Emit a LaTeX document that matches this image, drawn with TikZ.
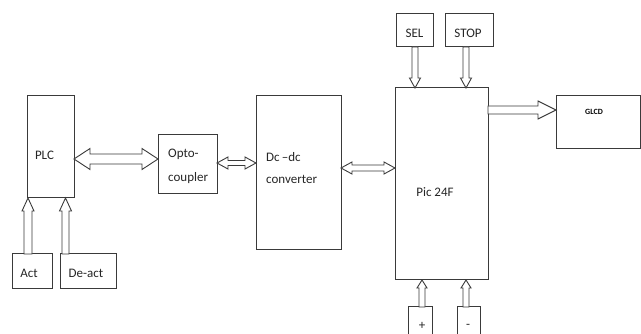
\documentclass[tikz,border=0pt]{standalone}
\usepackage{fontspec}
\setmainfont{Carlito}
\usetikzlibrary{calc}
\definecolor{ln}{HTML}{3A3A3A}
\newcommand{\myhdouble}[5]{%
  \draw[blk] (#1) -- ($(#1)+(#5,-#4)$) -- ($(#1)+(#5,-#3)$) -- ($(#2)+(-#5,-#3)$) -- ($(#2)+(-#5,-#4)$) -- (#2)
   -- ($(#2)+(-#5,#4)$) -- ($(#2)+(-#5,#3)$) -- ($(#1)+(#5,#3)$) -- ($(#1)+(#5,#4)$) -- cycle;}
\newcommand{\myhsingle}[5]{%
  \draw[blk] (#2) -- ($(#2)+(-#5,-#4)$) -- ($(#2)+(-#5,-#3)$) -- ($(#1)+(0,-#3)$) -- ($(#1)+(0,#3)$)
   -- ($(#2)+(-#5,#3)$) -- ($(#2)+(-#5,#4)$) -- cycle;}
\newcommand{\myvsingle}[5]{%
  \draw[blk] (#2) -- ($(#2)+(#4,#5)$) -- ($(#2)+(#3,#5)$) -- ($(#1)+(#3,0)$) -- ($(#1)+(-#3,0)$)
   -- ($(#2)+(-#3,#5)$) -- ($(#2)+(-#4,#5)$) -- cycle;}
\begin{document}
\begin{tikzpicture}[x=1pt,y=-1pt,
  box/.style={draw=ln,line width=1pt,inner sep=0pt,outer sep=0pt,fill=white},
  blk/.style={draw=ln,line width=0.9pt,fill=white,line join=miter},
  txt/.style={inner sep=0pt,font=\fontsize{13}{15}\selectfont,text=black!85}]
\clip (0,0) rectangle (641,334);
\fill[white] (0,0) rectangle (641,334);
% boxes
\node[box,minimum width=47pt,minimum height=102pt] (plc) at (50.5,147) {};
\node[box,minimum width=40pt,minimum height=35pt] (act) at (32,271.5) {};
\node[box,minimum width=56pt,minimum height=35pt] (deact) at (88,271.5) {};
\node[box,minimum width=59pt,minimum height=59pt] (opto) at (187.5,164.5) {};
\node[box,minimum width=85pt,minimum height=154pt] (dc) at (298.5,173) {};
\node[box,minimum width=93pt,minimum height=192pt] (pic) at (441.5,184) {};
\node[box,minimum width=37pt,minimum height=33pt] (sel) at (414.5,30.5) {};
\node[box,minimum width=48pt,minimum height=33pt] (stop) at (469,30.5) {};
\node[box,minimum width=84pt,minimum height=53pt] (glcd) at (598,122.5) {};
\node[box,minimum width=24pt,minimum height=33pt] (plus) at (420,323.5) {};
\node[box,minimum width=23pt,minimum height=33pt] (minus) at (468.5,323.5) {};
% texts
\node[txt] (tplc) at (44.5,155) {PLC};
\node[txt] (tact) at (29,273) {Act};
\node[txt] (tdeact) at (86,273) {De-act};
\node[txt,anchor=west] (topto1) at (168,154) {Opto-};
\node[txt,anchor=west] (topto2) at (168,178) {coupler};
\node[txt,anchor=west] (tdc1) at (266,157) {Dc\,–dc};
\node[txt,anchor=west] (tdc2) at (266,179) {converter};
\node[txt] (tpic) at (435,192) {Pic 24F};
\node[txt] (tsel) at (414.5,33) {SEL};
\node[txt] (tstop) at (468,33) {STOP};
\node[inner sep=0pt,font=\fontsize{8}{9}\selectfont\bfseries] (tglcd) at (594,112) {GLCD};
\node[txt] (tplus) at (422,326) {+};
\node[txt] (tminus) at (468,326) {-};
% arrow end points
\coordinate (a1) at (plc.east |- 0,159);
\coordinate (b1) at (opto.west |- 0,159);
\coordinate (a2) at (opto.east |- 0,163);
\coordinate (b2) at (dc.west |- 0,163);
\coordinate (a3) at (dc.east |- 0,168);
\coordinate (b3) at (pic.west |- 0,168);
\coordinate (a4) at (pic.east |- 0,110);
\coordinate (b4) at (glcd.west |- 0,110);
\coordinate (a5) at (act.north -| 28,0);
\coordinate (b5) at (plc.south -| 28,0);
\coordinate (a6) at (deact.north -| 65.5,0);
\coordinate (b6) at (plc.south -| 65.5,0);
\coordinate (a7) at (sel.south -| 415,0);
\coordinate (b7) at (pic.north -| 415,0);
\coordinate (a8) at (stop.south -| 466,0);
\coordinate (b8) at (pic.north -| 466,0);
\coordinate (a9) at (plus.north -| 422,0);
\coordinate (b9) at (pic.south -| 422,0);
\coordinate (a10) at (minus.north -| 466,0);
\coordinate (b10) at (pic.south -| 466,0);
% arrows
\myhdouble{a1}{b1}{5}{10.5}{16}
\myhdouble{a2}{b2}{2.5}{6}{11}
\myhdouble{a3}{b3}{3}{6}{11}
\myhsingle{a4}{b4}{4}{9}{18}
\myvsingle{a5}{b5}{4}{6}{13}
\myvsingle{a6}{b6}{3.5}{6}{13}
\myvsingle{a7}{b7}{3}{5.5}{-10}
\myvsingle{a8}{b8}{3}{5.5}{-10}
\myvsingle{a9}{b9}{3}{5}{8}
\myvsingle{a10}{b10}{3}{5}{8}
\end{tikzpicture}
\end{document}
